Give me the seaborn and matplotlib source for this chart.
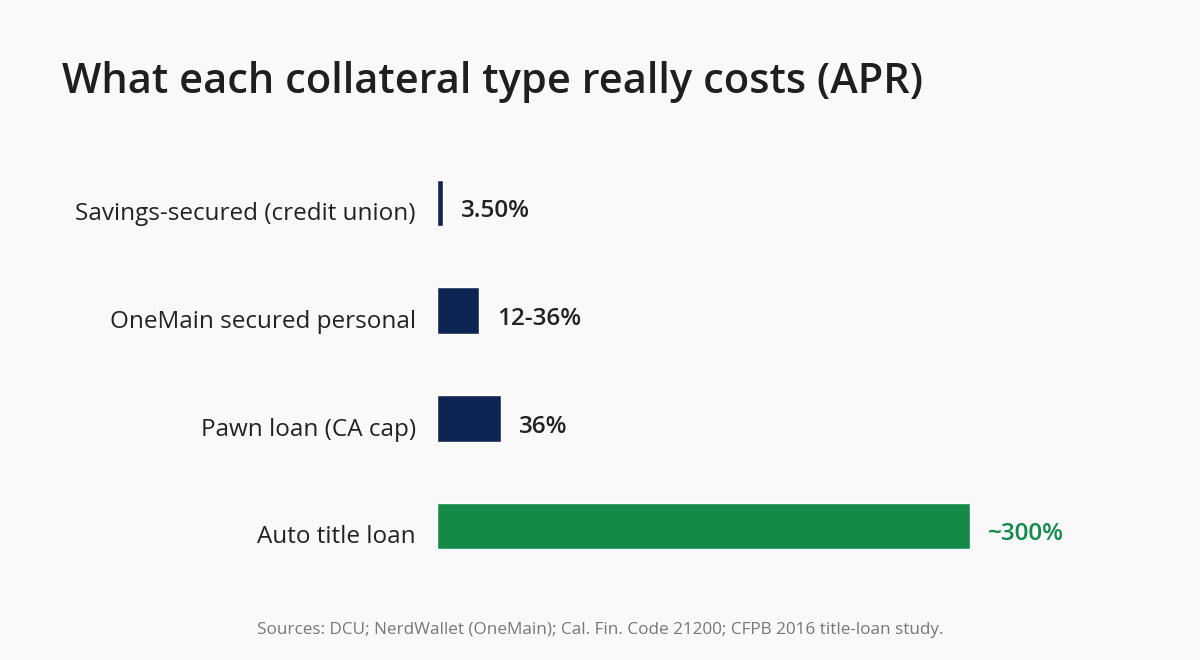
import pandas as pd
import seaborn as sns
import matplotlib.pyplot as plt
from matplotlib.transforms import ScaledTranslation

# APR by collateral type (OneMain drawn at midpoint of 12-36%)
categories = ['Savings-secured (credit union)', 'OneMain secured personal',
              'Pawn loan (CA cap)', 'Auto title loan']
apr = [3.5, 24, 36, 300]
value_labels = ['3.50%', '12-36%', '36%', '~300%']
colors = ['#0e2452', '#0e2452', '#0e2452', '#138a48']

df = pd.DataFrame({'category': categories, 'apr': apr})

bg = '#f8f9f8'
sns.set_theme(style='white')
plt.rcParams['font.family'] = ['Open Sans', 'DejaVu Sans']

fig = plt.figure(figsize=(12, 6.6), dpi=100, facecolor=bg)
ax = fig.add_axes([0.364, 0.1212, 0.55, 0.653], facecolor=bg)

sns.barplot(data=df, x='apr', y='category', hue='category', palette=colors,
            legend=False, width=0.43, saturation=1, ax=ax)

ax.set_xlim(0, 300 * 0.55 * 1200 / 533)
ax.set_ylim(3.5, -0.5)
for s in ax.spines.values():
    s.set_visible(False)
ax.set_xticks([])
ax.set_xlabel('')
ax.set_ylabel('')
ax.tick_params(axis='y', length=0, pad=15, labelsize=17.5, labelcolor='#222222')

# nudge labels a little below bar centres, like the original
shift = ScaledTranslation(0, -6 / 72, fig.dpi_scale_trans)
for t in ax.get_yticklabels():
    t.set_transform(t.get_transform() + shift)

for i, (v, lab) in enumerate(zip(apr, value_labels)):
    c = '#138a48' if i == 3 else '#222222'
    ax.annotate(lab, (v, i), xytext=(13, -6), textcoords='offset points',
                va='center', ha='left', fontsize=17.5, fontweight='semibold', color=c)

fig.text(0.052, 0.876, 'What each collateral type really costs (APR)',
         fontsize=30, fontweight='semibold', color='#1f1f1f', va='center', ha='left')
fig.text(0.5, 0.045, 'Sources: DCU; NerdWallet (OneMain); Cal. Fin. Code 21200; CFPB 2016 title-loan study.',
         fontsize=12.3, color='#777777', ha='center', va='center')

plt.savefig('out.png', dpi=100, facecolor=bg)
